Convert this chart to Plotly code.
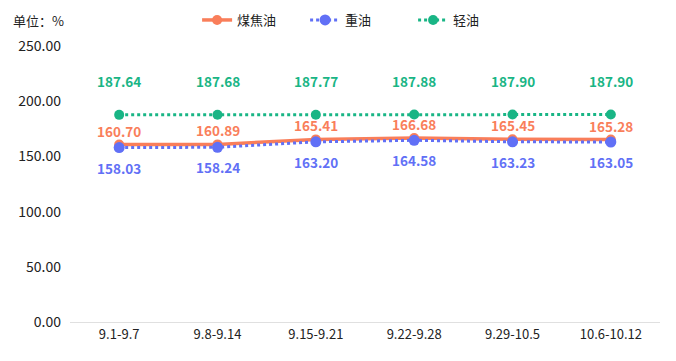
import plotly.graph_objects as go

categories = ["9.1-9.7", "9.8-9.14", "9.15-9.21", "9.22-9.28", "9.29-10.5", "10.6-10.12"]
coal_tar = [160.70, 160.89, 165.41, 166.68, 165.45, 165.28]
heavy_oil = [158.03, 158.24, 163.20, 164.58, 163.23, 163.05]
light_oil = [187.64, 187.68, 187.77, 187.88, 187.90, 187.90]
y_ticks = [0, 50, 100, 150, 200, 250]

C_ORANGE = "#F97E5A"
C_BLUE = "#6170F6"
C_GREEN = "#19B585"
FONT = "Microsoft YaHei, Noto Sans CJK SC, sans-serif"

fig = go.Figure()
fig.add_trace(go.Scatter(x=categories, y=coal_tar, name="煤焦油", mode="lines+markers",
                         line=dict(color=C_ORANGE, width=3.5), marker=dict(size=10, color=C_ORANGE)))
fig.add_trace(go.Scatter(x=categories, y=heavy_oil, name="重油", mode="lines+markers",
                         line=dict(color=C_BLUE, width=3, dash="dot"), marker=dict(size=11, color=C_BLUE)))
fig.add_trace(go.Scatter(x=categories, y=light_oil, name="轻油", mode="lines+markers",
                         line=dict(color=C_GREEN, width=3, dash="dot"), marker=dict(size=10, color=C_GREEN)))

annotations = []
for series, color, shift in [(light_oil, C_GREEN, 34), (coal_tar, C_ORANGE, 14), (heavy_oil, C_BLUE, -20)]:
    for c, v in zip(categories, series):
        annotations.append(dict(x=c, y=v, xref="x", yref="y", text=f"{v:.2f}", showarrow=False,
                                yshift=shift, font=dict(family=FONT, size=13.5, color=color, weight="bold")))
annotations.append(dict(x=(11 - 70) / 590, xanchor="left", y=(322 - 20) / 276, yanchor="middle",
                        xref="paper", yref="paper",
                        text="单位：%", showarrow=False, font=dict(family=FONT, size=13, color="#222")))

fig.update_layout(
    width=676, height=361,
    margin=dict(l=70, r=16, t=46, b=39, autoexpand=False),
    plot_bgcolor="white", paper_bgcolor="white",
    font=dict(family=FONT, size=12, color="#222"),
    showlegend=True,
    legend=dict(orientation="h", x=0.49, xanchor="center", y=1 - 20 / 361, yanchor="middle",
                yref="container",
                font=dict(family=FONT, size=13, color="#222"), itemwidth=30,
                entrywidth=63, entrywidthmode="pixels"),
    xaxis=dict(showgrid=False, showline=True, linecolor="#E0E0E0", linewidth=1, ticks="",
               tickfont=dict(size=13), zeroline=False, range=[-0.5, 5.5]),
    yaxis=dict(range=[0, 250], tickvals=y_ticks, tickformat=".2f", showgrid=False, showline=False,
               zeroline=False, tickfont=dict(size=14), ticks="", ticklen=0, ticklabelstandoff=8),
    annotations=annotations,
)
fig.write_html("out.html")
